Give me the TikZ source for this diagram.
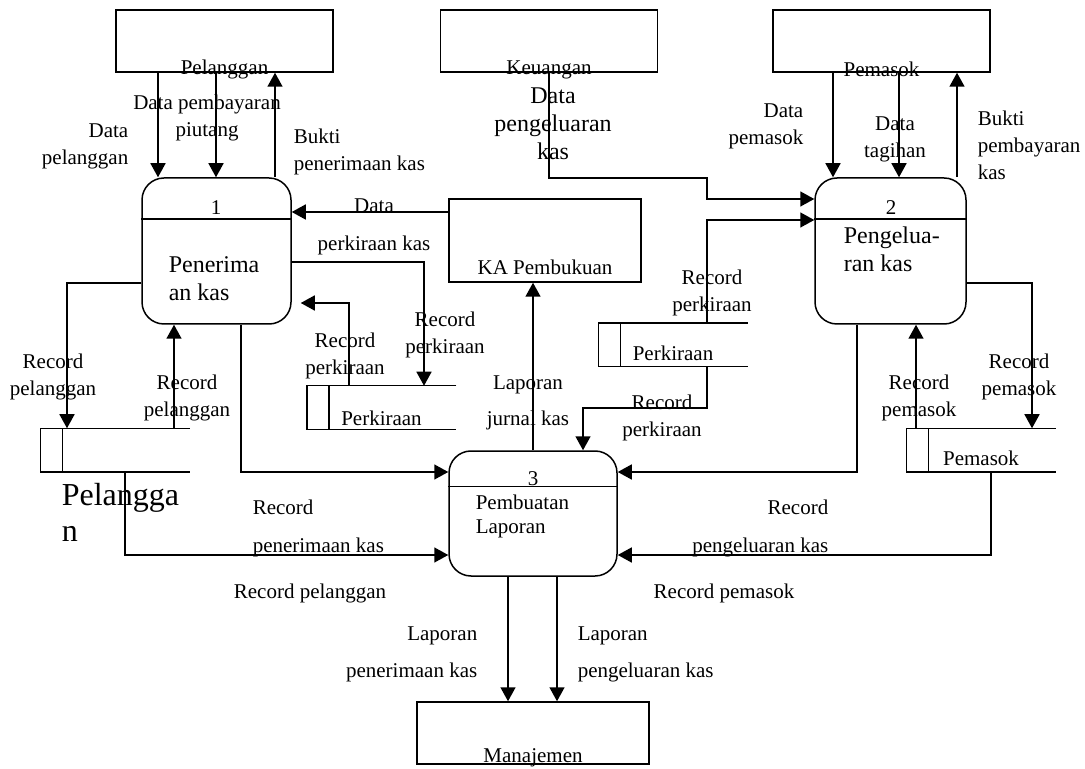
\documentclass[tikz,border=0pt]{standalone}
\usepackage{fontspec}
\setmainfont{Liberation Serif}
\usetikzlibrary{arrows.meta}
\newcommand{\flowfont}{\fontsize{10.5}{13.5}\selectfont}
\newcommand{\procfont}{\fontsize{12}{14}\selectfont}
\newcommand{\dsfont}{\fontsize{16}{18}\selectfont}

\begin{document}
\begin{tikzpicture}[% coordinates are given in pixels of the drawing
			x=0.5pt, y=-0.5pt, line width=0.75pt,
			every node/.style={
				align=center,  		% use this so that the "\\" for line break works
				inner sep=0pt,
				font=\flowfont
			},
			entity/.style={rectangle,draw,minimum width=108.5pt,minimum height=31pt},
			process/.style={rectangle,draw,rounded corners=11pt,minimum height=73pt},
			store/.style={rectangle,minimum width=74pt,minimum height=21pt},
			flow/.style={-{Triangle[length=7pt,width=7.5pt]}}
		]
		\useasboundingbox (0,0) rectangle (1085,769);
		% external entities
		\node[entity,label={[anchor=center,yshift=1.5pt]south:Pelanggan}](E1) at (224.5,41){};
		\node[entity,label={[anchor=center,yshift=1.5pt]south:Keuangan}](E2) at (549,41){};
		\node[entity,label={[anchor=center,yshift=1.5pt]south:Pemasok}](E3) at (881.5,41){};
		\node[entity,minimum width=96pt,minimum height=41.5pt,label={[anchor=center,yshift=7.5pt]south:KA Pembukuan}](E4) at (545,240.5){};
		\node[entity,minimum width=116pt,label={[anchor=center,yshift=3.5pt]south:Manajemen}](E5) at (533,733){};
		% processes
		\node[process,minimum width=74.5pt](P1) at (216.5,251){};
		\node[process,minimum width=75.5pt](P2) at (890.5,251){};
		\node[process,minimum width=84pt,minimum height=62.5pt](P3) at (533,513.5){};
		\draw ([yshift=-21pt]P1.north west) -- ([yshift=-21pt]P1.north east)
			([yshift=-21pt]P2.north west) -- ([yshift=-21pt]P2.north east)
			([yshift=-18pt]P3.north west) -- ([yshift=-18pt]P3.north east);
		\node(N1) at (216,208){1};
		\node(N2) at (891,208){2};
		\node(N3) at (533,479){3};
		\node[anchor=west,align=left,font=\procfont](N4) at (168,279){Penerima\\an kas};
		\node[anchor=west,align=left,font=\procfont](N5) at (843,249.5){Pengelua-\\ran kas};
		\node[anchor=west,align=left,font=\fontsize{10.5}{12}\selectfont](N6) at (475,516){Pembuatan\\Laporan};
		% data stores
		\node[store](D1) at (115,450){};
		\node[store,label={[anchor=center,yshift=5.5pt]south:Perkiraan}](D2) at (381.5,407.5){};
		\node[store,label={[anchor=center,yshift=6.5pt]south:Perkiraan}](D3) at (673,345){};
		\node[store,label={[anchor=center,yshift=6.5pt]south:Pemasok}](D4) at (981,450){};
		\node[anchor=west,align=left,font=\dsfont](N7) at (61,512){Pelangga\\n};
		\draw (D1.north east) -- (D1.north west) -- (D1.south west) -- (D1.south east)
			([xshift=11pt]D1.north west) -- ([xshift=11pt]D1.south west)
			(D2.north east) -- (D2.north west) -- (D2.south west) -- (D2.south east)
			([xshift=11pt]D2.north west) -- ([xshift=11pt]D2.south west)
			(D3.north east) -- (D3.north west) -- (D3.south west) -- (D3.south east)
			([xshift=11pt]D3.north west) -- ([xshift=11pt]D3.south west)
			(D4.north east) -- (D4.north west) -- (D4.south west) -- (D4.south east)
			([xshift=11pt]D4.north west) -- ([xshift=11pt]D4.south west);
		% data flows
		\draw[flow] (E1.south -| 158,0) -- (P1.north -| 158,0);
		\draw[flow] (E1.south -| 216,0) -- (P1.north -| 216,0);
		\draw[flow] (P1.north -| 275,0) -- (E1.south -| 275,0);
		\draw[flow] (E4.west |- 0,212) -- (P1.east |- 0,212);
		\draw[flow] (P1.east |- 0,262) -| (D2.north -| 424,0);
		\draw[flow,shorten >=4.5pt] (D2.north -| 349,0) |- (P1.east |- 0,303);
		\draw[flow] (P1.west |- 0,283) -| (D1.north -| 67,0);
		\draw[flow] (D1.north -| 174,0) -- (P1.south -| 174,0);
		\draw[flow] (P1.south -| 241,0) |- (P3.west |- 0,472);
		\draw[flow] (D1.south -| 125,0) |- (P3.west |- 0,555);
		\draw[flow] (P3.north -| 533,0) -- (E4.south -| 533,0);
		\draw[flow] (E2.south) |- (707,178) |- (P2.west |- 0,199);
		\draw[flow] (D3.north -| 707,0) |- (P2.west |- 0,220);
		\draw[flow] (E3.south -| 833,0) -- (P2.north -| 833,0);
		\draw[flow] (E3.south -| 899,0) -- (P2.north -| 899,0);
		\draw[flow] (P2.north -| 957,0) -- (E3.south -| 957,0);
		\draw[flow] (D3.south -| 707,0) |- (583,408) -- (P3.north -| 583,0);
		\draw[flow] (P2.south -| 857,0) |- (P3.east |- 0,472);
		\draw[flow] (D4.south -| 991,0) |- (P3.east |- 0,555);
		\draw[flow] (P2.east |- 0,283) -| (D4.north -| 1032,0);
		\draw[flow] (D4.north -| 916,0) -- (P2.south -| 916,0);
		\draw[flow] (P3.south -| 508,0) -- (E5.north -| 508,0);
		\draw[flow] (P3.south -| 557,0) -- (E5.north -| 557,0);
		% flow labels
		\node[anchor=east,align=right](T1) at (129,146){Data\\pelanggan};
		\node(T2) at (207,118){Data pembayaran\\piutang};
		\node[anchor=west,align=left](T3) at (293,152){Bukti\\penerimaan kas};
		\node(T4) at (374,227){Data\\[5.5pt]perkiraan kas};
		\node(T5) at (445,335){Record\\perkiraan};
		\node(T6) at (345,355.5){Record\\perkiraan};
		\node(T7) at (53,376.5){Record\\pelanggan};
		\node(T8) at (187,398){Record\\pelanggan};
		\node[anchor=west,align=left](T9) at (252,528){Record\\[5.5pt]penerimaan kas};
		\node(T10) at (310,593){Record pelanggan};
		\node(T11) at (528,403){Laporan\\[4.5pt]jurnal kas};
		\node[font=\procfont,text depth=0pt](T12) at (553,124){Data\\pengeluaran\\kas};
		\node(T13) at (712,292.5){Record\\perkiraan};
		\node(T14) at (662,418){Record\\perkiraan};
		\node[anchor=east,align=right](T15) at (804,126){Data\\pemasok};
		\node(T16) at (895,139.5){Data\\tagihan};
		\node[anchor=west,align=left](T17) at (977,145){Bukti\\pembayaran\\kas};
		\node(T18) at (1019,376.5){Record\\pemasok};
		\node(T19) at (919,398){Record\\pemasok};
		\node[anchor=east,align=right](T20) at (829,528.5){Record\\[5.5pt]pengeluaran kas};
		\node(T21) at (724,593){Record pemasok};
		\node[anchor=east,align=right](T22) at (478,654.5){Laporan\\[5pt]penerimaan kas};
		\node[anchor=west,align=left](T23) at (577,654.5){Laporan\\[5pt]pengeluaran kas};
	\end{tikzpicture}
\end{document}
